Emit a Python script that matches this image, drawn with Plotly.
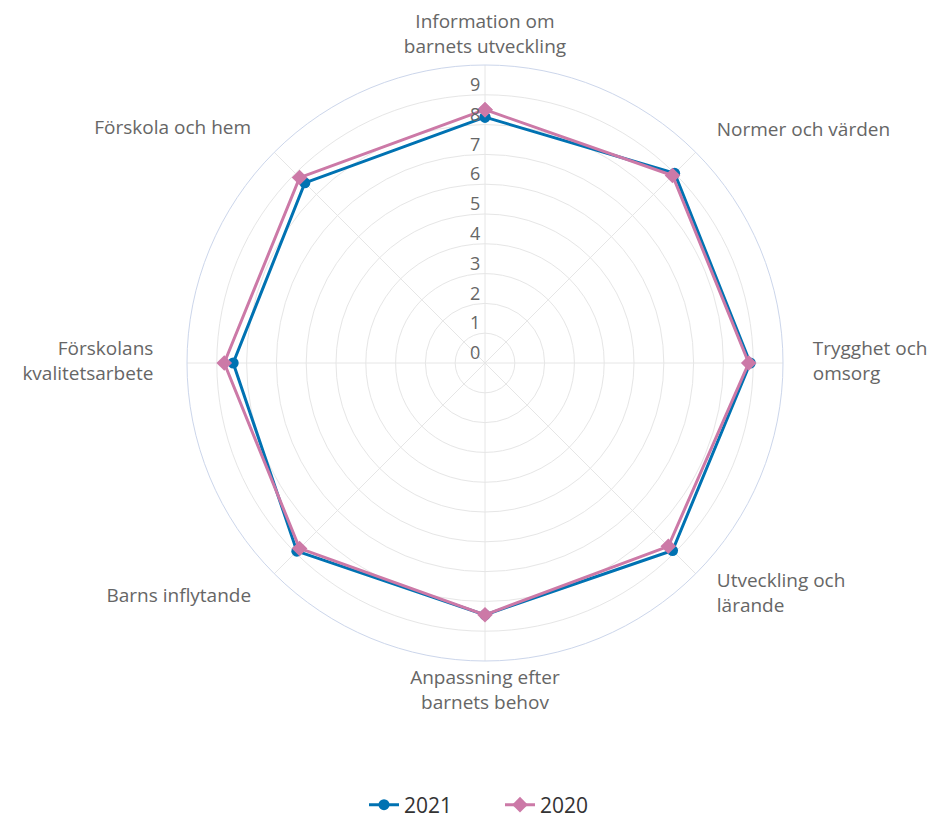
import plotly.graph_objects as go

categories = [
    "Information om barnets utveckling",
    "Normer och värden",
    "Trygghet och omsorg",
    "Utveckling och lärande",
    "Anpassning efter barnets behov",
    "Barns inflytande",
    "Förskolans kvalitetsarbete",
    "Förskola och hem",
]
category_labels = [
    "Information om<br>barnets utveckling",
    "Normer och värden",
    "Trygghet och<br>omsorg",
    "Utveckling och<br>lärande",
    "Anpassning efter<br>barnets behov",
    "Barns inflytande",
    "Förskolans<br>kvalitetsarbete",
    "Förskola och hem",
]
values_2021 = [8.25, 9.0, 8.9, 8.9, 8.45, 8.93, 8.45, 8.55]
values_2020 = [8.5, 8.9, 8.85, 8.7, 8.45, 8.8, 8.75, 8.8]
radial_ticks = [0, 1, 2, 3, 4, 5, 6, 7, 8, 9]

FONT = "Open Sans, Liberation Sans, Arial, sans-serif"
BLUE = "#0072B2"
PINK = "#CC79A7"
NB = "\u00a0"
ZW = "\u200b"

# ---- geometry (figure pixels) ----
W, H = 936, 809
CX, CY = 477, 355          # centre of the radar
R_MAIN = 298               # radius of outer ring (value 10)
R_LAB = 340                # radius of the invisible label subplot
UNIT = R_MAIN / 10.0


def dom(r):
    return dict(x=[(CX - r) / W, (CX + r) / W], y=[1 - (CY + r) / H, 1 - (CY - r) / H])


# placement of the category labels just outside the outer ring (in value units)
label_r = [10.25, 11.0, 11.0, 11.0, 10.3, 11.1, 11.13, 11.1]
label_pos = ["top center", "middle right", "middle right", "middle right",
             "bottom center", "middle left", "middle left", "middle left"]

fig = go.Figure()


def closed(v):
    return list(v) + [v[0]]


fig.add_trace(go.Scatterpolar(
    r=closed(values_2021), theta=closed(categories), name="2021",
    mode="lines+markers",
    line=dict(color=BLUE, width=3),
    marker=dict(symbol="circle", size=11, color=BLUE),
))
fig.add_trace(go.Scatterpolar(
    r=closed(values_2020), theta=closed(categories), name="2020",
    mode="lines+markers",
    line=dict(color=PINK, width=3),
    marker=dict(symbol="diamond", size=12, color=PINK),
))
# radial tick labels, placed just above each ring, left of the vertical axis
fig.add_trace(go.Scatterpolar(
    r=[t + 0.28 for t in radial_ticks], theta=[categories[0]] * len(radial_ticks),
    mode="text", text=[str(t) + NB + ZW for t in radial_ticks],
    textposition="middle left",
    textfont=dict(family=FONT, size=18, color="#666666"),
    showlegend=False, hoverinfo="skip", cliponaxis=False,
))
# category labels (on a transparent, larger overlay subplot)
fig.add_trace(go.Scatterpolar(
    r=label_r, theta=categories, subplot="polar2",
    mode="text", text=category_labels, textposition=label_pos,
    textfont=dict(family=FONT, size=19, color="#666666"),
    showlegend=False, hoverinfo="skip", cliponaxis=False,
))

ang_common = dict(type="category", rotation=90, direction="clockwise",
                  categoryarray=categories, categoryorder="array")

fig.update_layout(
    width=W, height=H,
    paper_bgcolor="white", plot_bgcolor="white",
    margin=dict(l=0, r=0, t=0, b=0, autoexpand=False),
    font=dict(family=FONT, size=19, color="#666666"),
    polar=dict(
        domain=dom(R_MAIN),
        bgcolor="white",
        radialaxis=dict(
            range=[0, 10], tickvals=list(range(1, 10)),
            showticklabels=False, ticks="",
            showline=False, gridcolor="#e6e6e6", gridwidth=1,
        ),
        angularaxis=dict(
            **ang_common,
            showticklabels=False, ticks="",
            showline=True, linecolor="#ccd6eb", linewidth=1,
            gridcolor="#e6e6e6", gridwidth=1,
        ),
    ),
    polar2=dict(
        domain=dom(R_LAB),
        bgcolor="rgba(0,0,0,0)",
        radialaxis=dict(range=[0, R_LAB / UNIT], visible=False, showgrid=False),
        angularaxis=dict(**ang_common, visible=False, showgrid=False,
                         showline=False, showticklabels=False, ticks=""),
    ),
    legend=dict(
        orientation="h", x=356 / W, xanchor="left", y=1 - 797 / H, yanchor="middle",
        font=dict(family=FONT, size=21, color="#333333"),
        entrywidth=91, entrywidthmode="pixels",
    ),
)

fig.write_html("out.html")
